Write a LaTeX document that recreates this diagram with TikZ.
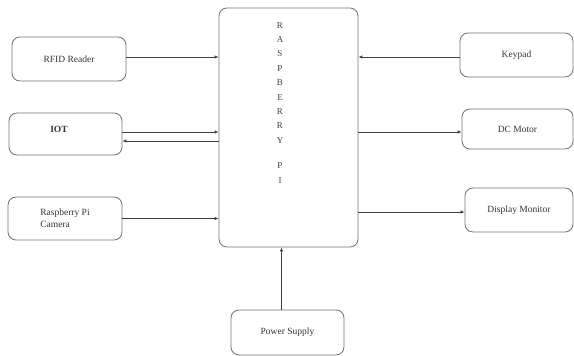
\documentclass[tikz,border=0pt]{standalone}
\usepackage{fontspec}
\setmainfont{Liberation Serif}
\usetikzlibrary{arrows.meta}
\tikzset{
  blok/.style={draw=black!55, line width=0.3mm, rounded corners=8pt, inner sep=0pt,
    font=\fontsize{9.5}{12}\selectfont, text=black!80},
  svyaz/.style={draw=black!75, line width=0.25mm, -{Latex[length=4pt,width=3.5pt]}}
}
\begin{document}
\begin{tikzpicture}[x=1pt,y=-1pt]
\useasboundingbox (0,0) rectangle (574,356);

%центральный блок
\node[blok, minimum width=139pt, minimum height=239pt] (pi) at (288.5,127.5) {};
\node[font=\fontsize{9}{14.4}\selectfont, text=black!75, align=center, anchor=north, inner sep=0pt] (pitxt) at (280,22)
  {R\\A\\S\\P\\B\\E\\R\\R\\Y\\[11pt]P\\I};

%левые блоки
\node[blok, minimum width=114pt, minimum height=44pt] (rfid) at (69,59) {RFID Reader};
\node[blok, minimum width=113pt, minimum height=42pt] (iot) at (65.5,134) {};
\node[font=\fontsize{9.5}{12}\selectfont\bfseries, text=black!80, inner sep=0pt] (iottxt) at (59,129) {IOT};
\node[blok, minimum width=114pt, minimum height=43pt, align=left] (cam) at (65,218.5) {Raspberry Pi\\Camera};

%правые блоки
\node[blok, minimum width=113pt, minimum height=44pt] (keypad) at (516.5,55) {Keypad};
\node[blok, minimum width=111pt, minimum height=40pt] (dc) at (517.5,129) {DC Motor};
\node[blok, minimum width=108pt, minimum height=44pt] (disp) at (519,210) {Display Monitor};

%питание
\node[blok, minimum width=113pt, minimum height=45pt] (power) at (287.5,332.5) {Power Supply};

%связи
\draw[svyaz] ([yshift=2pt]rfid.east) -- ([yshift=2pt]rfid.east -| pi.west);
\draw[svyaz] ([yshift=2pt]iot.east) -- ([yshift=2pt]iot.east -| pi.west);
\draw[svyaz] ([yshift=-7pt]iot.east -| pi.west) -- ([yshift=-7pt]iot.east);
\draw[svyaz] (cam.east) -- (cam.east -| pi.west);
\draw[svyaz] ([yshift=-2pt]keypad.west) -- ([yshift=-2pt]keypad.west -| pi.east);
\draw[svyaz] ([yshift=-3pt]dc.west -| pi.east) -- ([yshift=-3pt]dc.west);
\draw[svyaz] ([yshift=-2pt]disp.west -| pi.east) -- ([yshift=-2pt]disp.west);
\draw[svyaz] ([xshift=-6pt]power.north) -- ([xshift=-6pt]power.north |- pi.south);

\end{tikzpicture}
\end{document}
